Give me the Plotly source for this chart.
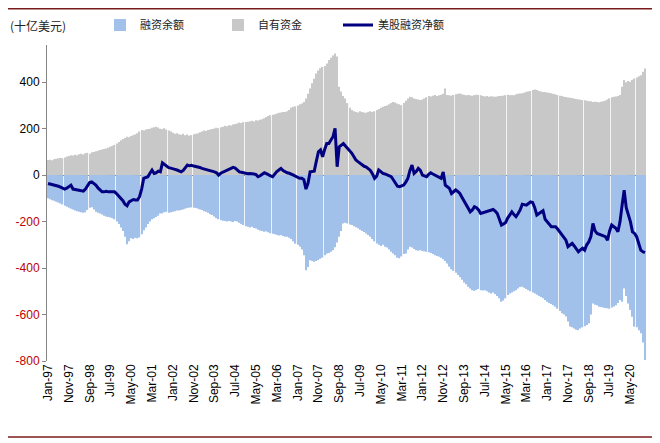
import plotly.graph_objects as go

# ---------------- data (billion USD), monthly Jan-97 .. Dec-20 ----------------
mon = ["Jan", "Feb", "Mar", "Apr", "May", "Jun", "Jul", "Aug", "Sep", "Oct", "Nov", "Dec"]
years = list(range(1997, 2021))
months = [f"{m}-{str(y)[2:]}" for y in years for m in mon]

own_funds = [  # 自有资金 (grey, positive)
    65, 66, 64, 68, 70, 72, 74, 73, 76, 80, 82, 86,
    84, 88, 86, 90, 92, 89, 94, 96, 92, 98, 100, 103,
    105, 108, 110, 112, 115, 118, 122, 126, 130, 136, 142, 150,
    155, 160, 165, 163, 168, 172, 175, 180, 188, 194, 192, 196,
    198, 200, 204, 206, 208, 205, 200, 198, 202, 196, 192, 188,
    182, 178, 180, 176, 174, 178, 172, 175, 170, 172, 176, 178,
    180, 184, 188, 192, 190, 194, 196, 198, 200, 204, 202, 206,
    208, 212, 210, 215, 214, 218, 220, 222, 226, 224, 228, 229,
    230, 232, 234, 231, 236, 235, 238, 240, 245, 250, 255, 258,
    260, 262, 265, 268, 270, 272, 272, 275, 280, 290, 294, 296,
    300, 305, 308, 315, 330, 350, 373, 395, 415, 437, 450, 460,
    466, 470, 480, 495, 505, 515, 523, 510, 380, 360, 340, 330,
    310, 290, 280, 275, 272, 270, 275, 272, 270, 268, 272, 275,
    272, 275, 280, 285, 290, 294, 298, 300, 305, 310, 315, 312,
    308, 305, 301, 310, 320, 330, 337, 335, 330, 328, 325, 323,
    325, 330, 335, 340, 338, 342, 345, 340, 344, 346, 350, 373,
    345, 344, 342, 345, 348, 350, 351, 348, 346, 344, 345, 344,
    342, 344, 346, 345, 344, 340, 338, 340, 337, 339, 338, 337,
    338, 340, 341, 342, 344, 346, 344, 345, 344, 348, 350, 351,
    352, 355, 358, 360, 362, 366, 368, 366, 362, 360, 358, 358,
    356, 355, 352, 350, 348, 345, 342, 340, 337, 336, 334, 333,
    332, 330, 328, 326, 325, 323, 322, 320, 318, 318, 315, 316,
    315, 314, 316, 318, 320, 325, 330, 335, 337, 338, 340, 345,
    380, 409, 400, 405, 402, 410, 416, 420, 425, 430, 445, 459,
]

margin_debt = [  # 融资余额 (blue, negative)
    -100, -104, -108, -110, -115, -118, -122, -126, -132, -136, -140, -145,
    -148, -152, -155, -158, -160, -162, -160, -150, -140, -138, -148, -158,
    -162, -165, -170, -175, -178, -180, -182, -185, -190, -200, -210, -225,
    -240, -265, -297, -285, -272, -275, -270, -272, -268, -255, -237, -225,
    -210, -200, -190, -186, -180, -175, -165, -165, -160, -158, -162, -160,
    -158, -155, -152, -152, -150, -148, -145, -142, -140, -139, -140, -142,
    -145, -148, -150, -155, -158, -162, -168, -172, -178, -185, -190, -194,
    -196, -198, -200, -198, -200, -202, -198, -200, -205, -210, -215, -220,
    -222, -225, -222, -228, -230, -235, -238, -240, -244, -242, -246, -250,
    -252, -255, -258, -260, -258, -262, -265, -265, -270, -275, -285, -295,
    -300, -308, -320, -345, -409, -395, -366, -370, -373, -370, -366, -360,
    -355, -345, -337, -335, -330, -323, -310, -290, -265, -240, -208, -205,
    -208, -212, -215, -220, -224, -229, -235, -240, -245, -251, -258, -265,
    -275, -285, -294, -300, -305, -300, -308, -312, -320, -330, -337, -345,
    -355, -358, -350, -340, -337, -320, -308, -312, -318, -323, -325, -323,
    -326, -328, -330, -332, -335, -340, -345, -348, -351, -356, -362, -370,
    -380, -394, -405, -412, -420, -430, -440, -450, -462, -470, -480, -488,
    -495, -498, -495, -490, -495, -497, -495, -500, -505, -509, -505, -512,
    -520, -530, -545, -540, -530, -516, -510, -505, -500, -495, -488, -482,
    -480, -485, -490, -495, -500, -505, -509, -515, -520, -525, -530, -538,
    -545, -550, -555, -560, -566, -575, -585, -595, -600, -609, -630, -652,
    -655, -660, -665, -667, -660, -655, -650, -645, -638, -600, -552, -558,
    -560, -566, -568, -570, -572, -573, -575, -570, -565, -560, -550, -538,
    -545, -488, -520, -552, -580, -610, -652, -655, -668, -681, -720, -796,
]

net_margin = [  # 美股融资净额 (line)
    -36, -38, -40, -44, -46, -48, -52, -55, -60, -56, -50, -43,
    -60, -62, -65, -67, -68, -69, -60, -45, -32, -29, -36, -43,
    -55, -65, -72, -72, -70, -72, -73, -72, -72, -80, -90, -100,
    -110, -125, -132, -115, -110, -105, -107, -107, -93, -60, -14, -10,
    -7, 8, 22, 7, 10, 17, 14, 53, 45, 36, 32, 30,
    29, 25, 22, 18, 14, 20, 30, 43, 40, 42, 39, 38,
    36, 33, 29, 27, 25, 22, 20, 18, 14, 10, 0, 8,
    12, 19, 22, 26, 30, 33, 30, 22, 14, 12, 10, 7,
    6, 7, 7, 5, 2, -7, -3, 5, 10, 6, 0, -3,
    -7, 5, 15, 22, 29, 20, 14, 10, 8, 5, 0, -5,
    -10, -14, -14, -20, -60, -35, 14, 15, 17, 60, 100, 108,
    79, 110, 136, 136, 150, 165, 201, 36, 122, 130, 136, 125,
    115, 108, 95, 80, 65, 58, 50, 43, 38, 35, 29, 20,
    5, -14, -5, 22, 15, 7, 5, 0, -3, -7, -20, -35,
    -48, -50, -46, -43, -30, -14, 20, 43, 7, 15, 29, 20,
    0, -5, -7, 3, 10, 5, 0, -3, -10, -14, 14, -43,
    -50, -57, -79, -70, -64, -70, -79, -95, -110, -122, -140, -158,
    -150, -136, -140, -150, -165, -162, -160, -158, -155, -150, -148, -155,
    -165, -190, -215, -210, -204, -185, -170, -158, -170, -179, -165, -150,
    -125, -128, -129, -122, -115, -118, -140, -172, -165, -162, -153, -190,
    -201, -210, -222, -222, -222, -232, -244, -252, -265, -280, -308, -300,
    -294, -305, -320, -330, -322, -315, -323, -300, -287, -265, -208, -240,
    -251, -255, -258, -262, -265, -280, -240, -215, -222, -229, -244, -201,
    -130, -65, -140, -172, -200, -244, -251, -265, -300, -323, -330, -334,
]

x_tick_labels = months[::10]
y_ticks = [-800, -600, -400, -200, 0, 200, 400]

# ---------------- figure ----------------
num_font = "Arial, Liberation Sans, sans-serif"
cjk_font = "Noto Sans CJK SC, sans-serif"

fig = go.Figure()
fig.add_trace(go.Bar(x=months, y=margin_debt, name="融资余额", legend="legend",
                     marker=dict(color="#A2C1EA", line=dict(width=0))))
fig.add_trace(go.Bar(x=months, y=own_funds, name="自有资金", legend="legend2",
                     marker=dict(color="#C8C8C8", line=dict(width=0))))
fig.add_trace(go.Scatter(x=months, y=net_margin, name="美股融资净额", mode="lines",
                         legend="legend3", line=dict(color="#000080", width=3)))

def ytxt(v):
    if v < 0:
        return f'<span style="color:#C00000">{v}</span>'
    return str(v)

PL, PW = 39, 599   # plot-area left / width in figure px

def lx(text_px):   # legend left (paper) so that its text starts at text_px (window px)
    return (text_px - 8 - 40 - PL) / PW

leg_common = dict(orientation="h", y=1.063, xanchor="left", yanchor="middle",
                  font=dict(family=cjk_font, size=11, color="#222222"),
                  itemwidth=30, bgcolor="rgba(0,0,0,0)")

fig.update_layout(
    width=652, height=435,
    margin=dict(l=PL, r=14, t=37, b=82, autoexpand=False),
    paper_bgcolor="white", plot_bgcolor="white",
    barmode="relative", bargap=0.4,
    font=dict(family=num_font, size=12, color="#000000"),
    legend=dict(x=lx(140), **leg_common),
    legend2=dict(x=lx(258), **leg_common),
    legend3=dict(x=lx(378), **leg_common),
    showlegend=True,
)
fig.update_xaxes(type="category", tickmode="array", tickvals=x_tick_labels,
                 ticktext=x_tick_labels, tickangle=-90, showgrid=False,
                 showline=False, ticks="", zeroline=False, automargin=False,
                 tickfont=dict(family=num_font, size=12, color="#000000"))
fig.update_yaxes(range=[-800, 560], tickmode="array", tickvals=y_ticks,
                 ticktext=[ytxt(v) for v in y_ticks], showgrid=False,
                 showline=True, linecolor="#868686", linewidth=1,
                 ticks="outside", ticklen=4, tickcolor="#868686",
                 zeroline=True, zerolinecolor="#868686", zerolinewidth=1,
                 automargin=False,
                 tickfont=dict(family=num_font, size=12, color="#000000"))

fig.add_annotation(text="(十亿美元)", xref="paper", yref="paper", x=-PL / PW, y=1.063,
                   xanchor="left", yanchor="middle", showarrow=False,
                   font=dict(family=cjk_font, size=12, color="#222222"))

# report frame lines (top and bottom, dark red)
for yy in (1.1147, -0.2405):
    fig.add_shape(type="line", xref="paper", yref="paper", x0=-PL / PW, x1=1.03,
                  y0=yy, y1=yy, line=dict(color="#7B1C1C", width=1.5))

fig.write_html("out.html")
